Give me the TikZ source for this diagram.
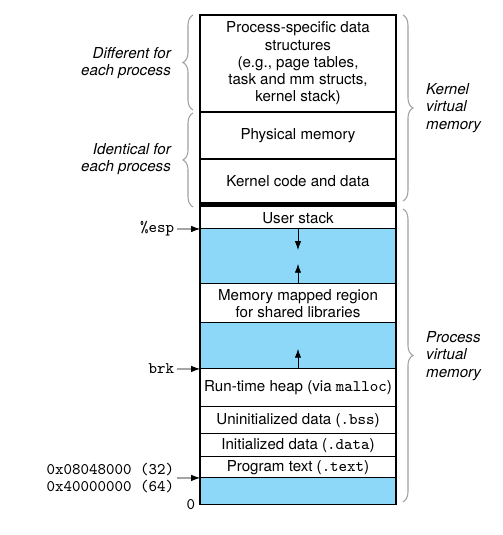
\documentclass[tikz,border=0pt]{standalone}
\usepackage{fontspec}
\setmainfont{TeX Gyre Heros}
\usetikzlibrary{positioning,decorations.pathreplacing,arrows.meta}
\definecolor{freeblue}{RGB}{141,216,248}
\newcommand{\tcode}[1]{{\fontsize{9.2}{10}\ttfamily #1}}

\begin{document}
\begin{tikzpicture}[x=0.02cm, y=-0.02cm, >={Latex[length=5pt,width=3.6pt]},
  font=\fontsize{8.6}{9.8}\selectfont,
  seg/.style={draw, line width=0.6pt, minimum width=3.92cm, inner sep=0pt, outer sep=0pt, align=center},
  gap/.style={seg, fill=freeblue},
  brc/.style={draw=gray!75, line width=0.6pt, decorate, decoration={brace, amplitude=0.2cm}},
  side/.style={font=\fontsize{8.6}{9.8}\selectfont\itshape},
  tag/.style={anchor=east, inner sep=1.5pt, align=right, font=\fontsize{9.2}{9.7}\selectfont\ttfamily}]
\useasboundingbox (0,0) rectangle (503,535);
\node[seg, anchor=north, minimum height=1.94cm] (pds) at (298,15)
  {Process-specific data\\structures\\(e.g., page tables,\\task and mm structs,\\kernel stack)};
\node[seg, below=0pt of pds, minimum height=0.94cm] (phys) {Physical memory};
\node[seg, below=0pt of phys, minimum height=0.88cm] (kcode) {Kernel code and data};
\node[seg, below=0pt of kcode, fill=black, minimum height=0.08cm] (bar) {};
\node[seg, below=0pt of bar, minimum height=0.44cm] (ustack) {User stack};
\node[gap, below=0pt of ustack, minimum height=1.10cm] (gap1) {};
\node[seg, below=0pt of gap1, minimum height=0.78cm] (mmap) {Memory mapped region\\for shared libraries};
\node[gap, below=0pt of mmap, minimum height=0.92cm] (gap2) {};
\node[seg, below=0pt of gap2, minimum height=0.76cm] (heap) {Run-time heap (via \tcode{malloc})};
\node[seg, below=0pt of heap, minimum height=0.54cm] (bss) {Uninitialized data (\tcode{.bss})};
\node[seg, below=0pt of bss, minimum height=0.46cm] (data) {Initialized data (\tcode{.data})};
\node[seg, below=0pt of data, minimum height=0.42cm] (text) {Program text (\tcode{.text})};
\node[gap, below=0pt of text, minimum height=0.54cm] (gap3) {};

\draw[->] (gap1.north) -- ++(0,21);
\draw[->] (gap1.south) -- ++(0,-20);
\draw[->] (gap2.south) -- ++(0,-20);

\node[tag] (esp) at (177,229) {\%esp};
\node[tag] (brk) at (177,369) {brk};
\node[tag] (start) at (177,478) {0x08048000 (32)\\0x40000000 (64)};
\node[tag] (zero) at (198,505) {0};
\draw[->] (esp.east) -- (gap1.north west);
\draw[->] (brk.east) -- (gap2.south west);
\draw[->] (start.east) -- (gap3.north west);

\draw[brc] ([xshift=-0.14cm, yshift=0.04cm]pds.south west) -- ([xshift=-0.14cm]pds.north west);
\draw[brc] ([xshift=-0.14cm]bar.south west) -- ([xshift=-0.14cm, yshift=-0.02cm]phys.north west);
\draw[brc] ([xshift=0.14cm]pds.north east) -- ([xshift=0.14cm, yshift=0.04cm]kcode.south east);
\draw[brc] ([xshift=0.14cm, yshift=-0.04cm]bar.south east) -- ([xshift=0.14cm, yshift=0.06cm]gap3.south east);

\node[side, anchor=east, align=right] (diff) at (177,63) {Different for\\each process};
\node[side, anchor=east, align=right] (same) at (177,159) {Identical for\\each process};
\node[side, anchor=west, align=left] (kvm) at (420,108) {Kernel\\virtual\\memory};
\node[side, anchor=west, align=left] (pvm) at (420,356) {Process\\virtual\\memory};
\end{tikzpicture}
\end{document}
